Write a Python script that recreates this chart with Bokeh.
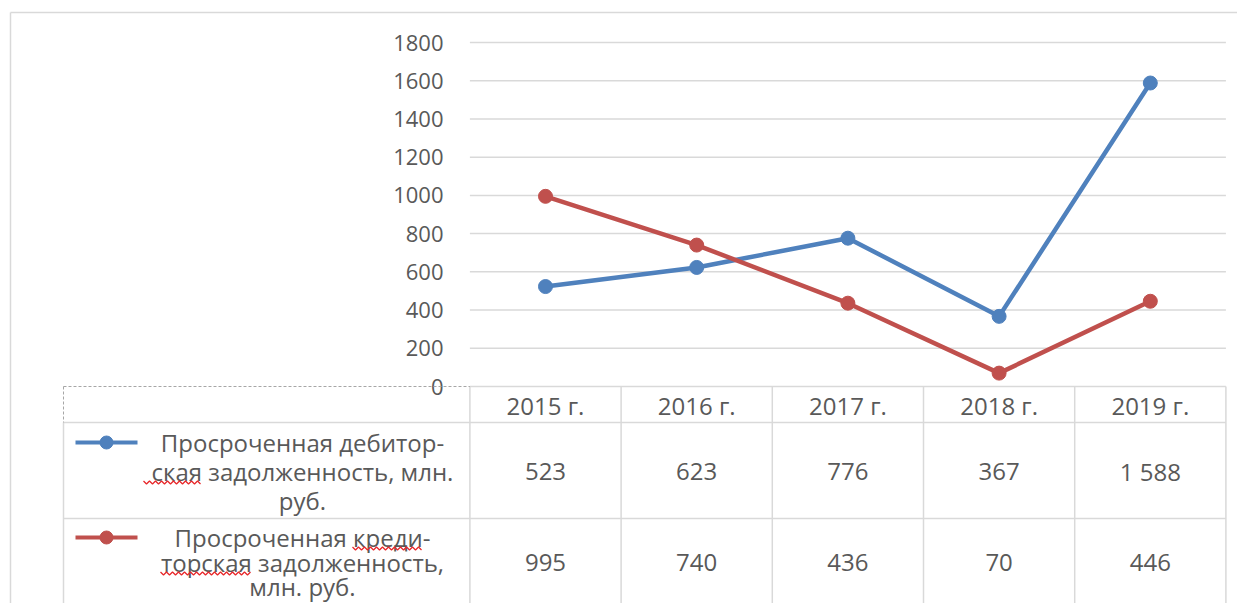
from bokeh.plotting import figure
from bokeh.models import Range1d
from bokeh.core.properties import value
from bokeh.embed import file_html
from bokeh.resources import INLINE

# ---- data ----
years = ["2015 г.", "2016 г.", "2017 г.", "2018 г.", "2019 г."]
receivable = [523, 623, 776, 367, 1588]
payable = [995, 740, 436, 70, 446]
y_ticks = [0, 200, 400, 600, 800, 1000, 1200, 1400, 1600, 1800]
receivable_name = ["Просроченная дебитор-", "ская задолженность, млн.", "руб."]
payable_name = ["Просроченная креди-", "торская задолженность,", "млн. руб."]

BLUE = "#4f81bd"
RED = "#c0504d"
GRID = "#d9d9d9"
TXT = "#595959"
FONT = value("Open Sans")
FS_AX = "22px"
FS_TB = "24px"

# reference-pixel -> data helpers, used for layout only
COL = 151.2
K = 344.0 / 1800.0
def X(px):
    return (px - 545.0) / COL
def Y(py):
    return (386.0 - py) / K

W, H = 1237, 603
p = figure(width=W, height=H,
           x_range=Range1d(X(0), X(W)), y_range=Range1d(Y(H), Y(0)),
           output_backend="svg", toolbar_location=None,
           min_border=0, min_border_left=0, min_border_right=0,
           min_border_top=0, min_border_bottom=0)
p.axis.visible = False
p.grid.visible = False
p.outline_line_color = None
p.background_fill_color = "white"
p.border_fill_color = "white"

n = len(years)
xs = list(range(n))
x0, x1 = -0.5, n - 0.5

# outer chart border
p.multi_line(xs=[[X(10), X(10)], [X(10), X(W + 5)]], ys=[[Y(H + 5), Y(12)], [Y(12), Y(12)]],
             line_color=GRID, line_width=1.5)

# horizontal grid lines
p.multi_line(xs=[[x0, x1] for _ in y_ticks], ys=[[t, t] for t in y_ticks],
             line_color=GRID, line_width=1.5)

# y tick labels
p.text(x=[X(443)] * len(y_ticks), y=y_ticks, text=[str(t) for t in y_ticks],
       text_align="right", text_baseline="middle", text_font=FONT,
       text_font_size=FS_AX, text_color=TXT)

# ---- data table ----
row_lines_y = [Y(422), Y(518)]
p.multi_line(xs=[[X(63), x1] for _ in row_lines_y], ys=[[yy, yy] for yy in row_lines_y],
             line_color=GRID, line_width=1.5)
col_edges = [x0 + i for i in range(n + 1)]
p.multi_line(xs=[[c, c] for c in col_edges], ys=[[0, Y(H + 5)] for _ in col_edges],
             line_color=GRID, line_width=1.5)
p.multi_line(xs=[[X(63), X(63)]], ys=[[Y(422), Y(H + 5)]], line_color=GRID, line_width=1.5)
# dashed corner cell
p.multi_line(xs=[[X(63), x0], [X(63), X(63)]], ys=[[0, 0], [0, Y(422)]],
             line_color="#a6a6a6", line_width=1, line_dash="3 2")

p.text(x=xs, y=[Y(405)] * n, text=years, text_align="center", text_baseline="middle",
       text_font=FONT, text_font_size=FS_TB, text_color=TXT)
fmt = lambda v: f"{v:,}".replace(",", " ")
p.text(x=xs, y=[Y(471)] * n, text=[fmt(v) for v in receivable], text_align="center",
       text_baseline="middle", text_font=FONT, text_font_size=FS_TB, text_color=TXT)
p.text(x=xs, y=[Y(562)] * n, text=[fmt(v) for v in payable], text_align="center",
       text_baseline="middle", text_font=FONT, text_font_size=FS_TB, text_color=TXT)

# legend keys inside the table
for name, color, ys_lines in ((receivable_name, BLUE, [442, 471, 500]),
                              (payable_name, RED, [537, 562, 586])):
    ky = Y(ys_lines[0])
    p.line(x=[X(75), X(137)], y=[ky, ky], line_color=color, line_width=4)
    p.scatter(x=[X(106)], y=[ky], size=13, fill_color=color, line_color=color)
    p.text(x=[X(302)] * len(name), y=[Y(v) for v in ys_lines], text=name,
           text_align="center", text_baseline="middle", text_font=FONT,
           text_font_size=FS_TB, text_color=TXT)

# spell-check underlines (decoration seen in the source)
def squiggle(a, b, yc):
    px, py, i, t = [], [], 0, a
    while t <= b:
        px.append(X(t)); py.append(Y(yc + (1.5 if i % 2 else -1.5)))
        t += 3; i += 1
    return px, py
sq = [squiggle(143, 201, 482), squiggle(352, 421, 548), squiggle(160, 252, 573)]
p.multi_line(xs=[s[0] for s in sq], ys=[s[1] for s in sq], line_color="#e8282b", line_width=1.3)

# ---- series ----
p.line(xs, receivable, line_color=BLUE, line_width=4.5)
p.scatter(xs, receivable, size=14, fill_color=BLUE, line_color=BLUE)
p.line(xs, payable, line_color=RED, line_width=4.5)
p.scatter(xs, payable, size=14, fill_color=RED, line_color=RED)

open("out.html", "w").write(file_html(p, INLINE))
